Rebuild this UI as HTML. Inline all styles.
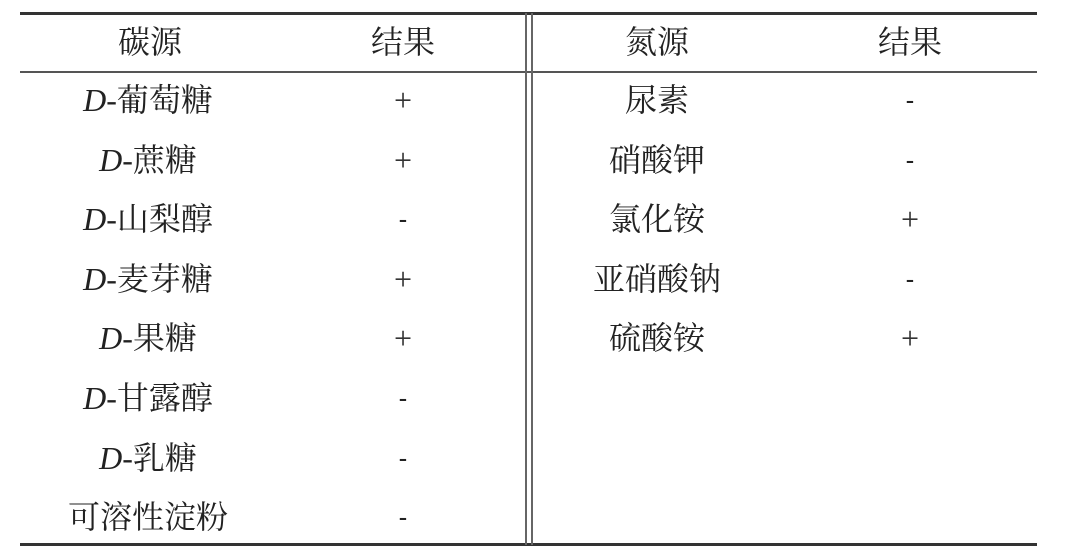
<!DOCTYPE html>
<html><head><meta charset="utf-8"><style>
html,body{margin:0;padding:0;background:#fff;}
body{width:1091px;height:560px;position:relative;overflow:hidden;font-family:"Liberation Serif","Noto Serif CJK SC",serif;color:#222;}
.l{position:absolute;background:#333;}
.t{position:absolute;width:260px;margin-left:-130px;text-align:center;font-size:32px;line-height:40px;height:40px;white-space:nowrap;}
.t i{font-style:italic;}
.p{font-family:"Liberation Serif",serif;font-size:32px;color:#333;}
.m{font-family:"Liberation Sans",sans-serif;font-size:26px;}
</style></head><body>
<div class="l" style="left:20px;top:12px;width:1017px;height:3px;"></div>
<div class="l" style="left:20px;top:71px;width:1017px;height:2px;background:#555;"></div>
<div class="l" style="left:20px;top:543px;width:1017px;height:3px;"></div>
<div class="l" style="left:525px;top:13px;width:2px;height:532px;background:#666;"></div>
<div class="l" style="left:531px;top:13px;width:2px;height:532px;background:#666;"></div>

<div class="t" style="left:150px;top:22px">碳源</div>
<div class="t" style="left:403px;top:22px">结果</div>
<div class="t" style="left:657px;top:22px">氮源</div>
<div class="t" style="left:910px;top:22px">结果</div>

<div class="t" style="left:148px;top:80px"><i>D</i>-葡萄糖</div>
<div class="t" style="left:148px;top:140px"><i>D</i>-蔗糖</div>
<div class="t" style="left:148px;top:199px"><i>D</i>-山梨醇</div>
<div class="t" style="left:148px;top:259px"><i>D</i>-麦芽糖</div>
<div class="t" style="left:148px;top:318px"><i>D</i>-果糖</div>
<div class="t" style="left:148px;top:378px"><i>D</i>-甘露醇</div>
<div class="t" style="left:148px;top:438px"><i>D</i>-乳糖</div>
<div class="t" style="left:148px;top:497px">可溶性淀粉</div>

<div class="t p" style="left:403px;top:80px">+</div>
<div class="t p" style="left:403px;top:140px">+</div>
<div class="t m" style="left:403px;top:199px">-</div>
<div class="t p" style="left:403px;top:259px">+</div>
<div class="t p" style="left:403px;top:318px">+</div>
<div class="t m" style="left:403px;top:378px">-</div>
<div class="t m" style="left:403px;top:438px">-</div>
<div class="t m" style="left:403px;top:497px">-</div>

<div class="t" style="left:657px;top:80px">尿素</div>
<div class="t" style="left:657px;top:140px">硝酸钾</div>
<div class="t" style="left:657px;top:199px">氯化铵</div>
<div class="t" style="left:657px;top:259px">亚硝酸钠</div>
<div class="t" style="left:657px;top:318px">硫酸铵</div>

<div class="t m" style="left:910px;top:80px">-</div>
<div class="t m" style="left:910px;top:140px">-</div>
<div class="t p" style="left:910px;top:199px">+</div>
<div class="t m" style="left:910px;top:259px">-</div>
<div class="t p" style="left:910px;top:318px">+</div>
</body></html>
